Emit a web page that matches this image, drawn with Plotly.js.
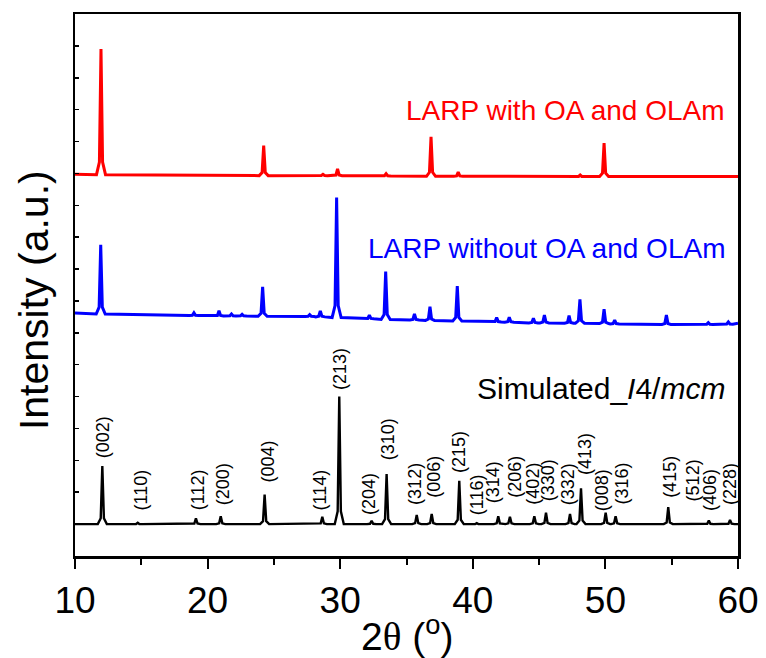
<!DOCTYPE html>
<html><head><meta charset="utf-8">
<script src="https://cdn.plot.ly/plotly-3.0.1.min.js"></script>
<style>html,body{margin:0;padding:0;background:#fff}</style>
</head><body><div id="chart" style="width:766px;height:658px"></div>
<script>
// ---- data (y in arbitrary stacked intensity units) ----
// Simulated I4/mcm pattern
const simPeakPos = [12.06,14.73,19.12,20.99,24.30,28.65,29.93,32.37,33.50,35.77,36.90,38.98,40.30,41.92,42.80,44.64,45.52,47.33,48.16,50.02,50.77,54.74,57.00,57.80,59.40];
const simPeakTop = [2.82,1.04,1.18,1.25,1.93,1.23,5.00,1.10,2.57,1.29,1.32,2.36,1.03,1.25,1.23,1.25,1.36,1.32,2.12,1.36,1.25,1.53,1.02,1.11,1.13];
const simPeakBase = [1.00,1.00,1.00,1.00,1.00,1.00,1.00,1.00,1.00,1.00,1.00,1.00,1.00,1.00,1.00,1.00,1.00,1.00,1.00,1.00,1.00,1.00,1.00,1.00,1.00];
const simEnds = [1.00, 1.00];

// LARP without OA and OLAm
const bluePeakPos = [11.94,18.97,20.86,21.80,22.60,24.15,27.70,28.50,29.73,32.20,33.43,35.60,36.77,38.83,41.80,42.75,44.57,45.40,47.26,48.08,49.90,50.70,54.60,57.76,59.27];
const bluePeakTop = [9.76,7.63,7.69,7.59,7.58,8.44,7.57,7.69,11.24,7.55,8.92,7.59,7.82,8.47,7.48,7.49,7.46,7.56,7.54,8.05,7.74,7.40,7.56,7.32,7.34];
const bluePeakBase = [7.59,7.54,7.53,7.53,7.53,7.52,7.51,7.50,7.48,7.44,7.42,7.40,7.39,7.37,7.34,7.33,7.31,7.31,7.30,7.30,7.29,7.28,7.26,7.26,7.27];
const blueEnds = [7.62, 7.30];

// LARP with OA and OLAm
const redPeakPos = [11.96,24.23,28.70,29.80,33.46,36.85,38.90,48.10,49.90];
const redPeakTop = [15.90,12.87,11.97,12.14,11.99,13.15,12.04,11.95,12.95];
const redPeakBase = [11.96,11.93,11.93,11.93,11.92,11.91,11.91,11.90,11.90];
const redEnds = [11.97, 11.90];

// Miller index labels of the simulated pattern
const hklLabels = ["(002)","(110)","(112)","(200)","(004)","(114)","(213)","(204)","(310)","(312)","(006)","(215)","(116)","(314)","(206)","(402)","(330)","(332)","(413)","(008)","(316)","(415)","(512)","(406)","(228)"];

const seriesNames = ["Simulated_I4/mcm","LARP without OA and OLAm","LARP with OA and OLAm"];
const xTitle = "2<span style=\"font-family:'Liberation Serif'\">θ</span> (<sup>o</sup>)";
const yTitle = "Intensity (a.u.)";

// ---- layout helpers (positions / styles) ----
const hklLabelX = [12.13,14.98,19.25,21.18,24.53,28.48,29.98,32.17,33.63,35.64,37.07,38.96,40.29,41.55,43.18,44.52,45.69,47.20,48.46,49.77,51.23,54.87,56.63,57.89,59.40];
const hklLabelY = [3.01,1.35,1.38,1.54,2.23,1.35,5.14,1.22,2.95,1.54,1.76,2.54,1.22,1.60,1.76,1.54,1.66,1.54,2.48,1.35,1.54,1.76,1.66,1.35,1.54];

function buildTrace(pos, top, base, ends) {
  const x = [10], y = [ends[0]];
  // peak drawing profile (style): foot, flank, apex
  const prof = [[-0.34,0],[-0.12,0.10],[0,1],[0.12,0.10],[0.34,0]];
  for (let i = 0; i < pos.length; i++) {
    const h = top[i] - base[i];
    prof.forEach(p => { x.push(pos[i] + p[0]); y.push(base[i] + p[1]*h); });
  }
  x.push(60); y.push(ends[1]);
  return {x, y};
}

const sim = buildTrace(simPeakPos, simPeakTop, simPeakBase, simEnds);
const blue = buildTrace(bluePeakPos, bluePeakTop, bluePeakBase, blueEnds);
const red = buildTrace(redPeakPos, redPeakTop, redPeakBase, redEnds);

const traces = [
  {x: sim.x, y: sim.y, name: seriesNames[0], mode:'lines', line:{color:'#000000', width:2.4}},
  {x: blue.x, y: blue.y, name: seriesNames[1], mode:'lines', line:{color:'#0000FF', width:3}},
  {x: red.x, y: red.y, name: seriesNames[2], mode:'lines', line:{color:'#FF0000', width:3}}
];

const sans = 'Liberation Sans, Arial, sans-serif';

const annotations = hklLabels.map((t,i) => ({
  text: t, x: hklLabelX[i], y: hklLabelY[i], xref:'x', yref:'y',
  textangle: -90, xanchor:'center', yanchor:'bottom', showarrow:false,
  font:{family:sans, size:18, color:'#000'}
}));
annotations.push(
  {text:'LARP with OA and OLAm', xref:'paper', yref:'y', x:0.983, y:13.98, xanchor:'right', yanchor:'middle', showarrow:false,
   font:{family:sans, size:28, color:'#FF0000'}},
  {text:'LARP without OA and OLAm', xref:'paper', yref:'y', x:0.983, y:9.66, xanchor:'right', yanchor:'middle', showarrow:false,
   font:{family:sans, size:28, color:'#0000FF'}},
  {text:'Simulated_<i>I</i>4/<i>mcm</i>', xref:'paper', yref:'y', x:0.983, y:5.25, xanchor:'right', yanchor:'middle', showarrow:false,
   font:{family:sans, size:30, color:'#000'}},
  // axis titles
  {text: xTitle, xref:'paper', yref:'paper', x:0.5, y:-0.143, xanchor:'center', yanchor:'middle', showarrow:false,
   font:{family:sans, size:39, color:'#000'}},
  {text: yTitle, xref:'paper', yref:'paper', x:-0.062, y:0.472, xanchor:'center', yanchor:'middle', textangle:-90, showarrow:false,
   font:{family:sans, size:41, color:'#000'}}
);

const layout = {
  width: 766, height: 658,
  margin: {l:75, r:28, t:14, b:102},
  paper_bgcolor:'#fff', plot_bgcolor:'#fff',
  showlegend:false,
  xaxis: {
    range:[10,60], dtick:10, tick0:10,
    ticks:'outside', ticklen:10, tickwidth:2, tickcolor:'#000',
    minor:{dtick:5, tick0:10, ticks:'outside', ticklen:6, tickwidth:2, tickcolor:'#000', showgrid:false},
    showline:true, linewidth:2.5, linecolor:'#000', mirror:true,
    showgrid:false, zeroline:false,
    tickfont:{family:sans, size:37, color:'#000'}
  },
  yaxis: {
    range:[0,17], dtick:1, tick0:0,
    ticks:'inside', ticklen:4, tickwidth:1.5, tickcolor:'#000',
    showticklabels:false,
    showline:true, linewidth:2.5, linecolor:'#000', mirror:true,
    showgrid:false, zeroline:false
  },
  annotations: annotations
};

Plotly.newPlot('chart', traces, layout, {displayModeBar:false, staticPlot:true});
</script>
</body></html>
